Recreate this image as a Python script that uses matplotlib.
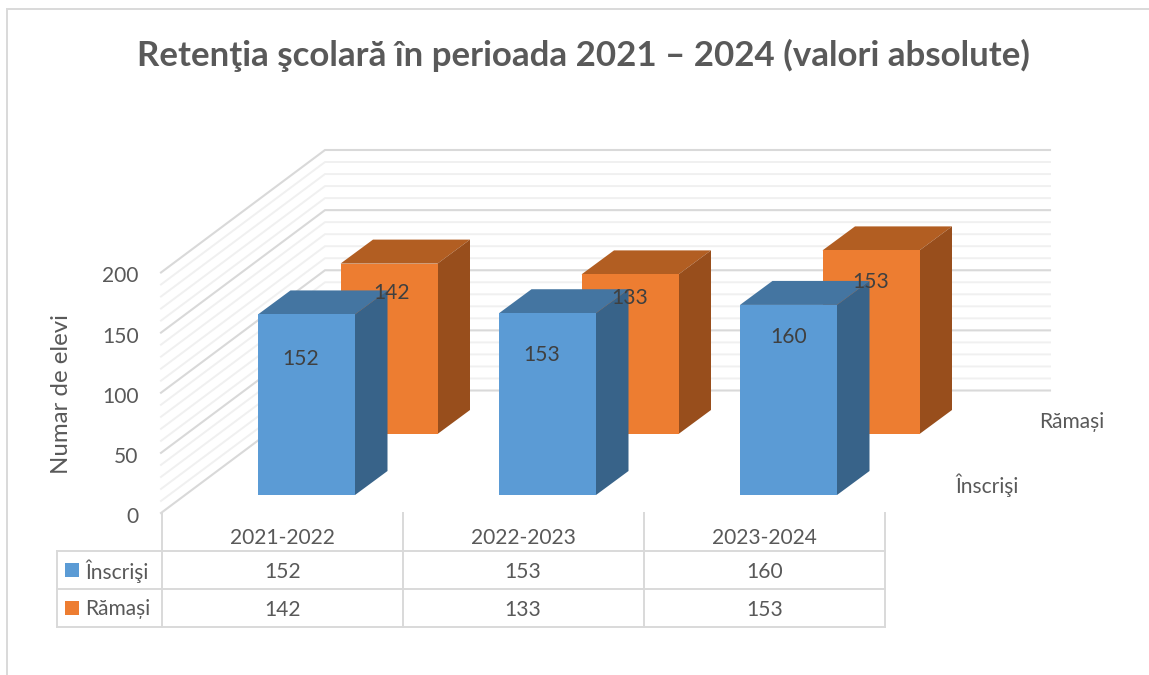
import matplotlib
matplotlib.use("Agg")
import matplotlib.pyplot as plt
from matplotlib.patches import Polygon, Rectangle

plt.rcParams['font.family'] = ['Lato', 'Noto Sans', 'DejaVu Sans']

TITLE = "Retenţia şcolară în perioada 2021 – 2024 (valori absolute)"
CATEGORIES = ["2021-2022", "2022-2023", "2023-2024"]
INSCRISI = [152, 153, 160]
RAMASI = [142, 133, 153]
SERIES_NAMES = ["Înscrişi", "Rămași"]
Y_TICKS = [0, 50, 100, 150, 200]
Y_LABEL = "Numar de elevi"

TEXT = "#595959"
BLUE = ("#5B9BD5", "#4475A1", "#386389")
ORANGE = ("#ED7D31", "#B25E22", "#984E1C")
FS = 15.1

# label placement relative to each bar's top-left front corner
LABEL_OFF_O = [(51.5, 29), (48.5, 24), (48.5, 32)]
LABEL_OFF_B = [(43, 45), (43, 42), (49, 32)]

fig = plt.figure(figsize=(11.49, 6.75), dpi=100)
ax = fig.add_axes([0, 0, 1, 1])
ax.set_xlim(0, 1149)
ax.set_ylim(675, 0)
ax.axis("off")

K_WALL = 1.2025
WALL_FRONT = (161, 513)
WALL_BACK = (325, 390.5)
WALL_RIGHT = 1050


def wall_y(x0_y, value):
    return x0_y - K_WALL * value


# border
ax.plot([1149, 7, 7], [8.5, 8.5, 675], color="#D9D9D9", lw=1.4, zorder=1, solid_joinstyle="miter")

# grid
for v in range(0, 201, 10):
    major = v % 50 == 0
    col = "#D9D9D9" if major else "#F0F0F0"
    lw = 1.5 if major else 1.4
    ax.plot([WALL_FRONT[0], WALL_BACK[0], WALL_RIGHT],
            [wall_y(WALL_FRONT[1], v), wall_y(WALL_BACK[1], v), wall_y(WALL_BACK[1], v)],
            color=col, lw=lw, zorder=2 if major else 1.5, solid_joinstyle="miter")

# bars
BAR_W = 97
DX, DY = 32.5, 24


def bar(x, base, value, k, colors, z):
    top = base - k * value
    ax.add_patch(Polygon([(x, top), (x + BAR_W, top), (x + BAR_W + DX, top - DY), (x + DX, top - DY)],
                         closed=True, fc=colors[1], ec="none", zorder=z))
    ax.add_patch(Polygon([(x + BAR_W, top), (x + BAR_W + DX, top - DY),
                          (x + BAR_W + DX, base - DY), (x + BAR_W, base)],
                         closed=True, fc=colors[2], ec="none", zorder=z))
    ax.add_patch(Rectangle((x, top), BAR_W, k * value, fc=colors[0], ec="none", zorder=z))
    return top


SLOT = 241
for i, (b, o) in enumerate(zip(INSCRISI, RAMASI)):
    xo = 340.5 + SLOT * i
    xb = 258 + SLOT * i
    top_o = bar(xo, 434, o, 1.2, ORANGE, 3 + i)
    top_b = bar(xb, 495, b, 1.188, BLUE, 3.5 + i)
    ax.text(xo + LABEL_OFF_O[i][0], top_o + LABEL_OFF_O[i][1], str(o), ha="center", va="center",
            fontsize=FS, color="#404040", zorder=10)
    ax.text(xb + LABEL_OFF_B[i][0], top_b + LABEL_OFF_B[i][1], str(b), ha="center", va="center",
            fontsize=FS, color="#404040", zorder=10)

# title + axis
ax.text(583, 55, TITLE, ha="center", va="center", fontsize=25.1, fontweight="bold", color=TEXT)
ax.text(61, 394, Y_LABEL, rotation=90, ha="center", va="center", fontsize=17.3, color=TEXT)
for v in Y_TICKS:
    ax.text(138.5, wall_y(WALL_FRONT[1], v) + 4, str(v), ha="right", va="center", fontsize=FS, color=TEXT)

# depth-axis names
ax.text(1072, 422, SERIES_NAMES[1], ha="center", va="center", fontsize=FS, color=TEXT)
ax.text(987, 485, SERIES_NAMES[0], ha="center", va="center", fontsize=FS, color=TEXT)

# data table
COLS = [57, 162, 402.5, 643.5, 885]
ROWS = [513, 551, 589, 627]
LINE = "#D9D9D9"
for x in COLS[1:]:
    ax.plot([x, x], [ROWS[0], ROWS[3]], color=LINE, lw=1.4, zorder=2)
ax.plot([COLS[0], COLS[0]], [ROWS[1], ROWS[3]], color=LINE, lw=1.4, zorder=2)
for y in ROWS[1:]:
    ax.plot([COLS[0], COLS[-1]], [y, y], color=LINE, lw=1.4, zorder=2)
for i, cat in enumerate(CATEGORIES):
    cx = (COLS[i + 1] + COLS[i + 2]) / 2
    ax.text(cx, 538.5, cat, ha="center", va="center", fontsize=FS, color=TEXT)
    ax.text(cx, 571.5, str(INSCRISI[i]), ha="center", va="center", fontsize=FS, color=TEXT)
    ax.text(cx, 609.5, str(RAMASI[i]), ha="center", va="center", fontsize=FS, color=TEXT)
for name, color, yc in zip(SERIES_NAMES, (BLUE[0], ORANGE[0]), (570, 608)):
    ax.add_patch(Rectangle((65, yc - 7), 14, 14, fc=color, ec="none"))
    ax.text(85, yc + 1, name, ha="left", va="center", fontsize=FS, color=TEXT)

fig.savefig("out.png", dpi=100)
